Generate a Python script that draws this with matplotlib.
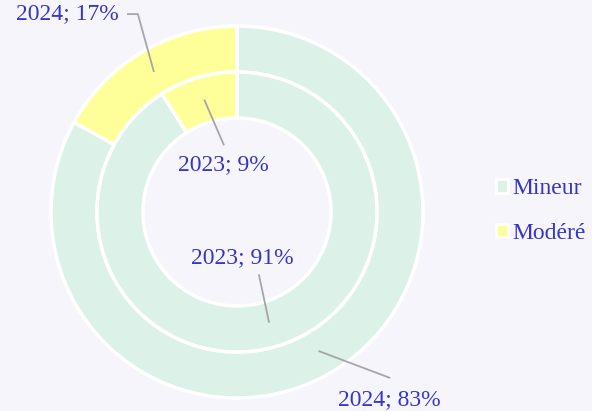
import numpy as np
import matplotlib.pyplot as plt
from matplotlib.patches import Patch

categories = ['Mineur', 'Modéré']
years = ['2023', '2024']
share_2023 = [91, 9]
share_2024 = [83, 17]
colors = ['#dcf1e7', '#ffff9a']

bg = '#f7f5fc'
blue = '#3535c8'
gray = '#a6a6a6'

plt.rcParams['font.family'] = ['Liberation Serif', 'DejaVu Serif']

fig = plt.figure(figsize=(5.92, 4.11), dpi=100, facecolor=bg)
ax = fig.add_axes([0, 0, 1, 1])
ax.set_facecolor(bg)
ax.axis('off')

# pixel-ish frame: centre of the rings at (237, 212), outer radius 186 px
R = 186.0
cx, cy = 237.0, 212.0

w = 46 / R
r_out = 1.0
r_in = 140 / R
wp = dict(width=w, edgecolor='white', linewidth=2.5)
ax.pie(share_2024, radius=r_out, colors=colors, startangle=90,
       counterclock=False, wedgeprops=wp)
ax.pie(share_2023, radius=r_in, colors=colors, startangle=90,
       counterclock=False, wedgeprops=wp)
ax.set_xlim(-cx / R, (592 - cx) / R)
ax.set_ylim(-(411 - cy) / R, cy / R)
ax.set_aspect('equal')


def mid_angle(vals, i):
    tot = sum(vals)
    start = 90 - 360 * sum(vals[:i]) / tot
    return np.deg2rad(start - 180 * vals[i] / tot)


def pt(a, r):
    return r * np.cos(a), r * np.sin(a)


fs = 17

# outer ring labels
a = mid_angle(share_2024, 1)
p0 = pt(a, 0.88)
p1 = pt(a - np.deg2rad(4), 1.19)
p2 = (p1[0] - 10 / R, p1[1])
ax.plot([p0[0], p1[0], p2[0]], [p0[1], p1[1], p2[1]], color=gray, lw=1.3)
ax.text(p2[0] - 9 / R, p2[1], f'{years[1]}; {share_2024[1]}%', color=blue,
        fontsize=fs, ha='right', va='center')

a = mid_angle(share_2024, 0)
p0 = pt(a, 0.87)
p1 = pt(a + np.deg2rad(12), 1.21)
ax.plot([p0[0], p1[0]], [p0[1], p1[1]], color=gray, lw=1.3)
ax.text(p1[0], p1[1] - 22 / R, f'{years[1]}; {share_2024[0]}%', color=blue,
        fontsize=fs, ha='center', va='center')

# inner ring labels
a = mid_angle(share_2023, 1)
p0 = pt(a, 0.625)
p1 = pt(a - np.deg2rad(5), 0.37)
ax.plot([p0[0], p1[0]], [p0[1], p1[1]], color=gray, lw=1.3)
ax.text(p1[0], p1[1] - 20 / R, f'{years[0]}; {share_2023[1]}%', color=blue,
        fontsize=fs, ha='center', va='center')

a = mid_angle(share_2023, 0)
p0 = pt(a, 0.615)
p1 = pt(a + np.deg2rad(3), 0.36)
ax.plot([p0[0], p1[0]], [p0[1], p1[1]], color=gray, lw=1.3)
ax.text(p1[0] - 17 / R, p1[1] + 18 / R, f'{years[0]}; {share_2023[0]}%',
        color=blue, fontsize=fs, ha='center', va='center')

handles = [Patch(facecolor=c, edgecolor='white', linewidth=2) for c in colors]
leg = fig.legend(handles, categories, loc='center left',
                 bbox_to_anchor=(475 / 592, 1 - 211 / 411), frameon=False,
                 handlelength=0.5, handleheight=0.5, handletextpad=0.2,
                 labelspacing=1.0, fontsize=fs)
for t in leg.get_texts():
    t.set_color(blue)

fig.savefig('out.png', dpi=100, facecolor=bg)
